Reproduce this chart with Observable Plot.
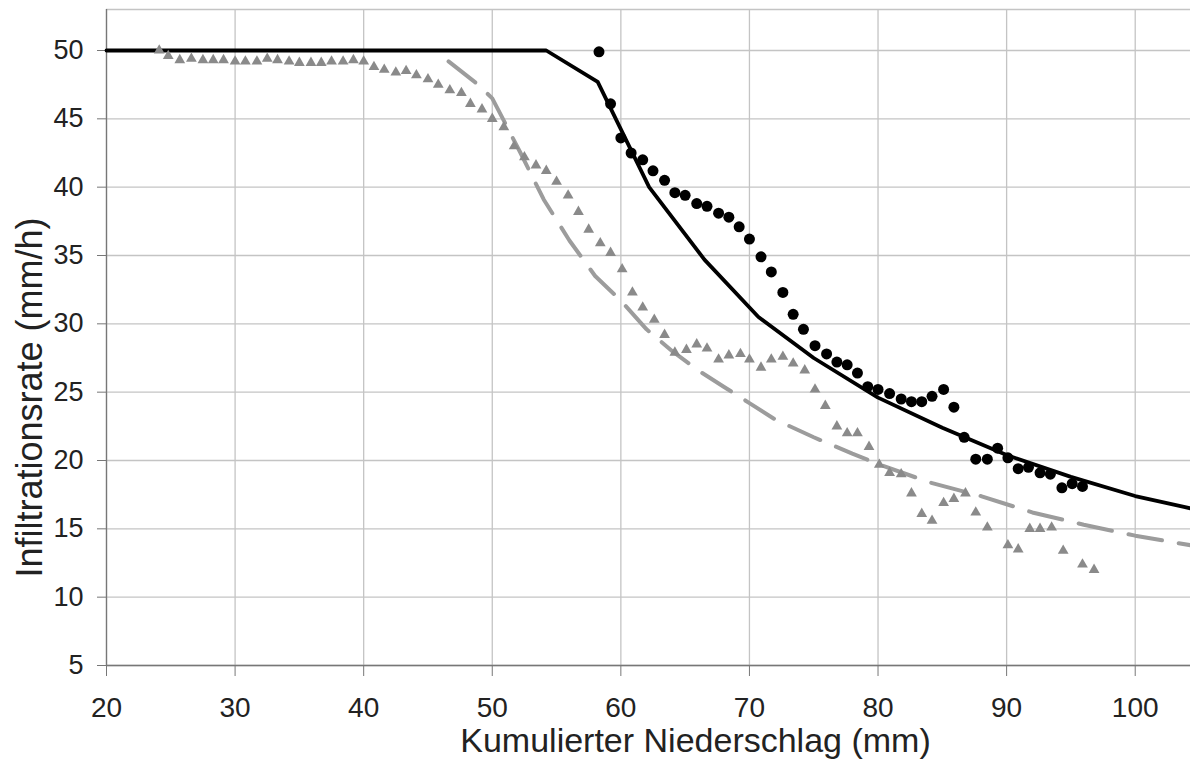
<!DOCTYPE html>
<html>
<head>
<meta charset="utf-8">
<script src="https://cdn.jsdelivr.net/npm/d3@7"></script>
<script src="https://cdn.jsdelivr.net/npm/@observablehq/plot@0.6"></script>
<style>
  html, body { margin: 0; padding: 0; background: #fff; }
  #chart { width: 1190px; height: 762px; }
</style>
</head>
<body>
<div id="chart"></div>
<script>
// Axis setup
const xDomain = [20, 104.3];
const yDomain = [5, 53];
const xTicks = [20, 30, 40, 50, 60, 70, 80, 90, 100];
const yTicks = [5, 10, 15, 20, 25, 30, 35, 40, 45, 50];
const xTitle = "Kumulierter Niederschlag (mm)";
const yTitle = "Infiltrationsrate (mm/h)";

// Solid black model curve
const modelAX = [20, 54.2, 58.2, 62.2, 66.5, 70.7, 75, 80, 85, 90, 95, 100, 104.3];
const modelAY = [50, 50, 47.7, 40.0, 34.7, 30.5, 27.5, 24.6, 22.4, 20.4, 18.8, 17.4, 16.5];

// Dashed gray model curve
const modelBX = [46.6, 48.9, 50, 52.2, 54, 56, 58, 60, 62, 64, 66, 68, 70, 72, 75, 78, 80, 84, 88, 92, 96, 100, 104.3];
const modelBY = [49.2, 47.5, 46.5, 42.5, 39.1, 36.1, 33.5, 31.7, 29.6, 28.0, 26.6, 25.4, 24.2, 23.0, 21.7, 20.5, 19.75, 18.4, 17.4, 16.2, 15.3, 14.5, 13.8];

// Black circles (observations, series 1)
const circX = [58.3, 59.2, 60.0, 60.8, 61.7, 62.5, 63.4, 64.2, 65.0, 65.9, 66.7, 67.6, 68.4, 69.2, 70.0, 70.9, 71.7, 72.6, 73.4, 74.2, 75.1, 76.0, 76.8, 77.6, 78.4, 79.2, 80.0, 80.9, 81.8, 82.6, 83.4, 84.2, 85.1, 85.9, 86.7, 87.6, 88.5, 89.3, 90.1, 90.9, 91.7, 92.6, 93.4, 94.3, 95.1, 95.9];
const circY = [49.9, 46.1, 43.6, 42.5, 42.0, 41.2, 40.5, 39.6, 39.4, 38.8, 38.6, 38.1, 37.8, 37.1, 36.2, 34.9, 33.8, 32.3, 30.7, 29.6, 28.4, 27.8, 27.2, 27.0, 26.4, 25.4, 25.2, 24.9, 24.5, 24.3, 24.3, 24.7, 25.2, 23.9, 21.7, 20.1, 20.1, 20.9, 20.2, 19.4, 19.5, 19.1, 19.0, 18.0, 18.3, 18.1];

// Gray triangles (observations, series 2)
const triX = [24.1, 24.8, 25.7, 26.6, 27.5, 28.3, 29.1, 30.0, 30.8, 31.7, 32.5, 33.3, 34.2, 35.0, 35.9, 36.7, 37.5, 38.4, 39.2, 40.0, 40.8, 41.6, 42.5, 43.3, 44.1, 45.0, 45.8, 46.7, 47.6, 48.3, 49.2, 50.0, 50.9, 51.7, 52.5, 53.4, 54.2, 55.0, 55.9, 56.7, 57.5, 58.4, 59.2, 60.1, 60.9, 61.7, 62.6, 63.4, 64.2, 65.1, 65.9, 66.7, 67.6, 68.4, 69.3, 70.0, 70.9, 71.7, 72.6, 73.4, 74.3, 75.1, 75.9, 76.8, 77.6, 78.4, 79.3, 80.1, 80.9, 81.8, 82.6, 83.4, 84.2, 85.1, 85.9, 86.8, 87.6, 88.5, 90.1, 90.9, 91.8, 92.6, 93.5, 94.4, 95.9, 96.8];
const triY = [50.0, 49.6, 49.3, 49.4, 49.3, 49.3, 49.3, 49.2, 49.2, 49.2, 49.4, 49.3, 49.2, 49.1, 49.1, 49.1, 49.2, 49.2, 49.3, 49.2, 48.8, 48.6, 48.4, 48.5, 48.2, 47.9, 47.5, 47.1, 46.9, 46.1, 45.7, 45.0, 44.4, 43.0, 42.2, 41.6, 41.2, 40.4, 39.4, 38.2, 36.9, 35.9, 35.2, 34.0, 32.3, 31.2, 30.3, 29.2, 27.9, 28.1, 28.5, 28.2, 27.4, 27.7, 27.8, 27.4, 26.8, 27.4, 27.6, 27.1, 26.6, 25.2, 24.0, 22.5, 22.0, 22.0, 21.0, 19.7, 19.1, 19.0, 17.6, 16.1, 15.6, 16.9, 17.2, 17.6, 16.2, 15.1, 13.8, 13.5, 15.0, 15.0, 15.1, 13.4, 12.4, 12.0];

const modelA = modelAX.map((x, i) => ({x, y: modelAY[i]}));
const modelB = modelBX.map((x, i) => ({x, y: modelBY[i]}));
const circles = circX.map((x, i) => ({x, y: circY[i]}));
const triangles = triX.map((x, i) => ({x, y: triY[i]}));

const chart = Plot.plot({
  width: 1190,
  height: 762,
  marginLeft: 106,
  marginRight: 0,
  marginTop: 9,
  marginBottom: 97,
  style: {fontFamily: "'Liberation Sans', Arial, sans-serif", background: "#fff", color: "#222"},
  x: {domain: xDomain},
  y: {domain: yDomain},
  marks: [
    Plot.gridX(xTicks, {stroke: "#c4c4c4", strokeOpacity: 1, strokeWidth: 1.3}),
    Plot.gridY(yTicks, {stroke: "#c4c4c4", strokeOpacity: 1, strokeWidth: 1.3}),
    Plot.ruleY([yDomain[1]], {stroke: "#c4c4c4", strokeWidth: 1.3}),
    Plot.ruleX([xDomain[0]], {stroke: "#777", strokeWidth: 1.3}),
    Plot.ruleY([yDomain[0]], {stroke: "#777", strokeWidth: 1.3}),
    Plot.axisX(xTicks, {tickSize: 11, tickPadding: 21, fontSize: 28, stroke: "#777", label: null, fill: "#222"}),
    Plot.axisY(yTicks, {tickSize: 9, tickPadding: 14, fontSize: 27, stroke: "#777", label: null, fill: "#222"}),
    Plot.line(modelB, {x: "x", y: "y", stroke: "#9c9c9c", strokeWidth: 4, strokeDasharray: "34,17"}),
    Plot.line(modelA, {x: "x", y: "y", stroke: "#000", strokeWidth: 3.8}),
    Plot.dot(triangles, {x: "x", y: "y", symbol: "triangle", r: 4, fill: "#8a8a8a", stroke: "none"}),
    Plot.dot(circles, {x: "x", y: "y", r: 5.5, fill: "#000", stroke: "none"}),
    Plot.text([xTitle], {frameAnchor: "bottom", textAnchor: "middle", lineAnchor: "middle", dx: 47, dy: 76, fontSize: 34, fill: "#222"}),
    Plot.text([yTitle], {frameAnchor: "left", textAnchor: "middle", lineAnchor: "middle", rotate: -90, dx: -76, dy: 60, fontSize: 36, fill: "#222"})
  ]
});
document.getElementById("chart").appendChild(chart);
</script>
</body>
</html>
